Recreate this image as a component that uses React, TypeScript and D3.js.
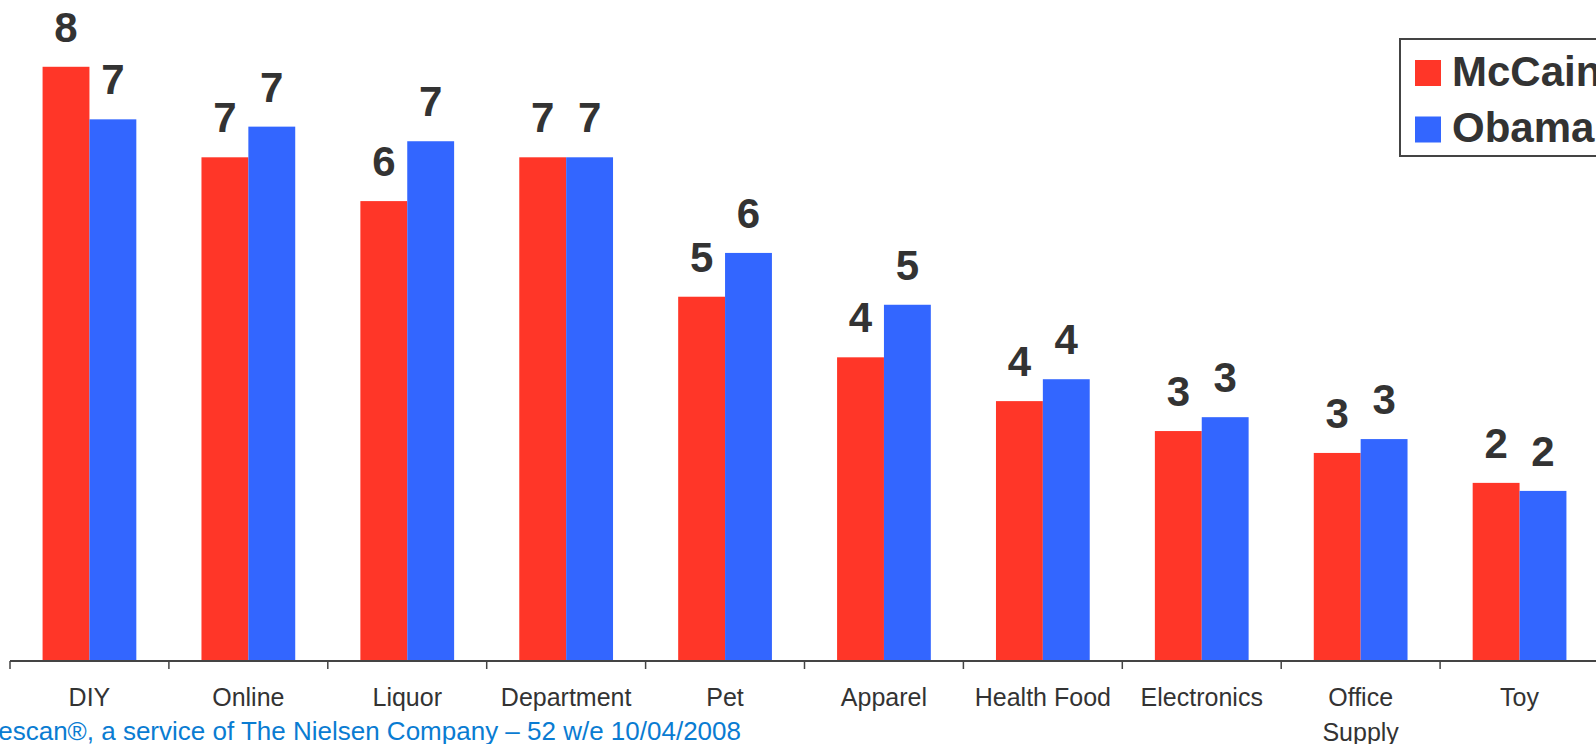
import React from "react";
import * as d3 from "d3";

// Share of shoppers by retail channel, per candidate supporter group
const categories: string[][] = [
  ["DIY"],
  ["Online"],
  ["Liquor"],
  ["Department"],
  ["Pet"],
  ["Apparel"],
  ["Health Food"],
  ["Electronics"],
  ["Office", "Supply"],
  ["Toy"],
];
const seriesNames = ["McCain", "Obama"];
const mccainValues = [8.14, 6.9, 6.3, 6.9, 4.99, 4.16, 3.56, 3.15, 2.85, 2.44];
const obamaValues = [7.42, 7.32, 7.12, 6.9, 5.59, 4.88, 3.86, 3.34, 3.04, 2.33];
const seriesColors = ["#ff3628", "#3366ff"];
const sourceNote =
  "Source: Homescan®, a service of The Nielsen Company – 52 w/e 10/04/2008";

const W = 1596;
const H = 744;
const FONT = "Arial, 'Liberation Sans', Helvetica, sans-serif";
const INK = "#333333";

export default function App() {
  const left = 10;
  const right = 1599;
  const baseline = 661;
  const yMax = 9;
  const perUnit = 73;

  const keys = categories.map((c) => c.join(" "));
  const x0 = d3.scaleBand<string>().domain(keys).range([left, right]).padding(0);
  const bw = x0.bandwidth();
  const groupW = bw * 0.59;
  const x1 = d3
    .scaleBand<string>()
    .domain(seriesNames)
    .range([(bw - groupW) / 2, (bw + groupW) / 2])
    .padding(0);
  const y = d3
    .scaleLinear()
    .domain([0, yMax])
    .range([baseline, baseline - yMax * perUnit]);
  const fmt = d3.format(".0f");
  const seriesValues = [mccainValues, obamaValues];

  const tickXs = d3.range(keys.length + 1).map((i) => left + i * bw);

  return (
    <svg
      width={W}
      height={H}
      style={{ position: "absolute", left: 0, top: 0, background: "#fff" }}
      fontFamily={FONT}
    >
      <rect x={0} y={0} width={W} height={H} fill="#ffffff" />
      {keys.map((k, i) => (
        <g key={k} transform={`translate(${x0(k)},0)`}>
          {seriesNames.map((s, j) => {
            const v = seriesValues[j][i];
            const bx = x1(s) as number;
            return (
              <g key={s}>
                <rect
                  x={bx}
                  y={y(v)}
                  width={x1.bandwidth()}
                  height={baseline - y(v)}
                  fill={seriesColors[j]}
                />
                <text
                  x={bx + x1.bandwidth() / 2}
                  y={y(v) - 25}
                  textAnchor="middle"
                  fontSize={42}
                  fontWeight="bold"
                  fill={INK}
                >
                  {fmt(v)}
                </text>
              </g>
            );
          })}
          <text
            x={bw / 2}
            y={706}
            textAnchor="middle"
            fontSize={25}
            fill={INK}
          >
            {categories[i].map((line, li) => (
              <tspan key={li} x={bw / 2} dy={li === 0 ? 0 : 35}>
                {line}
              </tspan>
            ))}
          </text>
        </g>
      ))}
      {/* category axis */}
      <line x1={left} x2={right} y1={baseline} y2={baseline} stroke="#444" strokeWidth={2} />
      {tickXs.map((tx, i) => (
        <line key={i} x1={tx} x2={tx} y1={baseline} y2={baseline + 8} stroke="#444" strokeWidth={1.5} />
      ))}
      {/* legend */}
      <g transform="translate(1400,39)">
        <rect x={0} y={0} width={220} height={117} fill="#fff" stroke="#444" strokeWidth={2} />
        {seriesNames.map((s, j) => (
          <g key={s} transform={`translate(0,${21 + j * 56.5})`}>
            <rect x={15} y={0} width={26} height={26} fill={seriesColors[j]} />
            <text x={52} y={25.5} fontSize={42} fontWeight="bold" fill={INK}>
              {s}
            </text>
          </g>
        ))}
      </g>
      <text x={741} y={740} textAnchor="end" fontSize={26} fill="#0a7cd2">
        {sourceNote}
      </text>
    </svg>
  );
}
